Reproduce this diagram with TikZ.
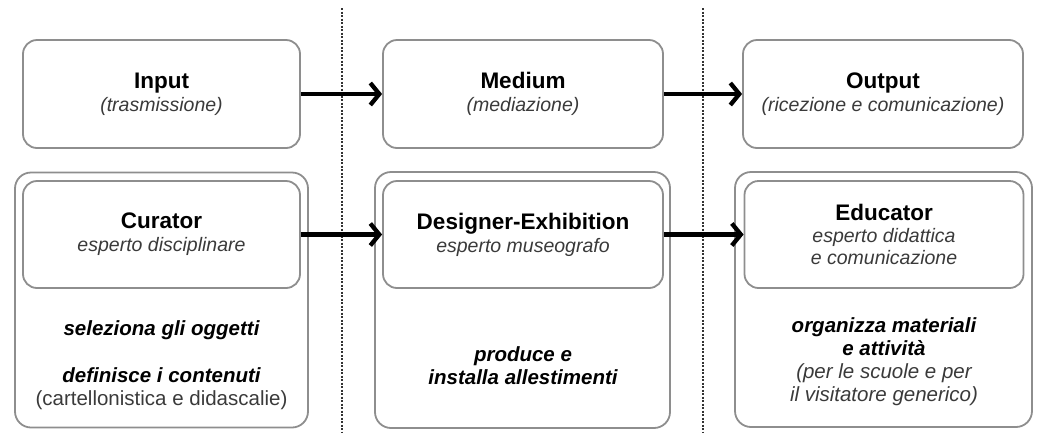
\documentclass[tikz,border=0pt]{standalone}
\usepackage{fontspec}
\setmainfont{Liberation Sans}
\usetikzlibrary{arrows.meta}
\definecolor{boxgray}{HTML}{8E8E8E}
\definecolor{subgray}{HTML}{3A3A3A}
\newcommand{\roletitle}[1]{{\fontsize{22.5}{25}\selectfont\bfseries #1}}
\begin{document}
\begin{tikzpicture}[x=1pt,y=-1pt,
  box/.style={draw=boxgray, line width=1.8pt, rounded corners=14pt, fill=white,
    align=center, inner sep=0pt, font=\fontsize{19.5}{24}\selectfont},
  outerbox/.style={draw=boxgray, line width=1.8pt, rounded corners=16pt, inner sep=0pt},
  note/.style={align=center, font=\fontsize{20.5}{23}\selectfont},
  flow/.style={line width=4.3pt, -{Straight Barb[length=9pt,width=22pt]}},
  divider/.style={draw=black!80, line width=1.2pt, dash pattern=on 2pt off 1.5pt}]
\useasboundingbox (0,0) rectangle (1039,432);

% column dividers
\coordinate (d1t) at (342,8);  \coordinate (d1b) at (342,432);
\coordinate (d2t) at (703,8);  \coordinate (d2b) at (703,432);
\draw[divider] (d1t) -- (d1b);
\draw[divider] (d2t) -- (d2b);

% top row
\node[box, minimum width=277pt, minimum height=108pt] (input) at (161.5,94)
  {\roletitle{Input}\\[-1pt]\color{subgray}\itshape(trasmissione)};
\node[box, minimum width=280pt, minimum height=108pt] (medium) at (523,94)
  {\roletitle{Medium}\\[-1pt]\color{subgray}\itshape(mediazione)};
\node[box, minimum width=280pt, minimum height=108pt] (output) at (883,94)
  {\roletitle{Output}\\[-1pt]\color{subgray}\itshape(ricezione e comunicazione)};

% bottom row: outer frames
\node[outerbox, minimum width=293pt, minimum height=255pt] (curframe) at (161.5,300) {};
\node[outerbox, minimum width=295pt, minimum height=256pt] (desframe) at (522.5,300) {};
\node[outerbox, minimum width=297pt, minimum height=255pt] (eduframe) at (883.5,299.5) {};

% bottom row: roles
\node[box, minimum width=277pt, minimum height=107pt] (curator) at (161.5,234.5)
  {\roletitle{Curator}\\[-1pt]\color{subgray}\itshape esperto disciplinare};
\node[box, minimum width=280pt, minimum height=107pt] (designer) at (523,234.5)
  {\roletitle{Designer-Exhibition}\\[-1pt]\color{subgray}\itshape esperto museografo};
\node[box, minimum width=279pt, minimum height=107pt] (educator) at (884,234.5)
  {\roletitle{Educator}\\[-2pt]\color{subgray}\itshape esperto didattica\\[-2pt]\color{subgray}\itshape e comunicazione};

% tasks
\node[note] (cur1) at (161.5,330) {\bfseries\itshape seleziona gli oggetti};
\node[note] (cur2) at (161.5,389) {\bfseries\itshape definisce i contenuti\\\color{subgray}(cartellonistica e didascalie)};
\node[note] (des1) at (523,366) {\bfseries\itshape produce e\\\bfseries\itshape installa allestimenti};
\node[note] (edu1) at (884,362) {\bfseries\itshape organizza materiali\\\bfseries\itshape e attività\\\color{subgray}\itshape (per le scuole e per\\\color{subgray}\itshape il visitatore generico)};

% flow arrows
\draw[flow] (input.east) -- (medium.west);
\draw[flow] (medium.east) -- (output.west);
\draw[flow] (curator.east) -- (designer.west);
\draw[flow] (designer.east) -- (educator.west);
\end{tikzpicture}
\end{document}
